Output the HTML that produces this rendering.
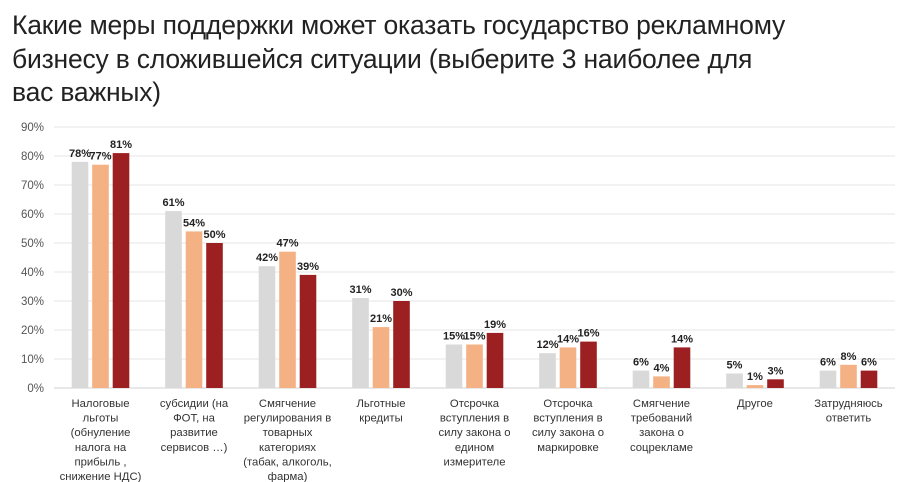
<!DOCTYPE html>
<html><head><meta charset="utf-8"><style>
body{margin:0;width:900px;height:482px;background:#fff;overflow:hidden;font-family:"Liberation Sans",sans-serif}
h1{position:absolute;left:12px;top:9px;margin:0;font-weight:normal;font-size:26.5px;line-height:33.5px;color:#222;width:880px;white-space:nowrap;letter-spacing:-0.2px}
</style></head><body>
<h1>Какие меры поддержки может оказать государство рекламному<br>бизнесу в сложившейся ситуации (выберите 3 наиболее для<br>вас важных)</h1>
<svg id="c" width="900" height="482" style="position:absolute;left:0;top:0"></svg>
<script>
const categories=[["Налоговые","льготы","(обнуление","налога на","прибыль ,","снижение НДС)"],["субсидии (на","ФОТ, на","развитие","сервисов …)"],["Смягчение","регулирования в","товарных","категориях","(табак, алкоголь,","фарма)"],["Льготные","кредиты"],["Отсрочка","вступления в","силу закона о","едином","измерителе"],["Отсрочка","вступления в","силу закона о","маркировке"],["Смягчение","требований","закона о","соцрекламе"],["Другое"],["Затрудняюсь","ответить"]];
const series1=[78,61,42,31,15,12,6,5,6];
const series2=[77,54,47,21,15,14,4,1,8];
const series3=[81,50,39,30,19,16,14,3,6];
const yTicks=[0,10,20,30,40,50,60,70,80,90];
const colors=["#d9d9d9","#f4b183","#9c2021"];
const NS="http://www.w3.org/2000/svg";
const svg=document.getElementById("c");
const y0=388,pxPer=2.9,left=54,step=93.5;
const y=v=>y0-v*pxPer;
const xc=i=>left+step*i+46.5;
function mk(t,a){const e=document.createElementNS(NS,t);for(const k in a)e.setAttribute(k,a[k]);svg.appendChild(e);return e;}
yTicks.forEach(t=>{
 const l=mk("line",{x1:left,x2:895,y1:y(t),y2:y(t),stroke:t===0?"#d0d0d0":"#e6e6e6","stroke-width":1});
 
 
 const tx=mk("text",{x:44,y:y(t)+4,"text-anchor":"end","font-size":11.5,fill:"#555"});tx.textContent=t+"%";
 
 
});
[series1,series2,series3].forEach((s,si)=>{
 s.forEach((v,i)=>{
  const cx=xc(i)+(si-1)*20.5;
  const r=mk("rect",{x:cx-8.3,y:y(v),width:16.6,height:v*pxPer,fill:colors[si]});
  
  
  const t=mk("text",{x:cx,y:y(v)-5,"text-anchor":"middle","font-size":11,"font-weight":"bold",fill:"#222"});t.textContent=v+"%";
  
  
 });
});
categories.forEach((c,i)=>{
 c.forEach((ln,j)=>{
  const t=mk("text",{x:xc(i),y:407+j*14.6,"text-anchor":"middle","font-size":11.3,fill:"#333"});t.textContent=ln;
  
  
 });
});
</script>
</body></html>
